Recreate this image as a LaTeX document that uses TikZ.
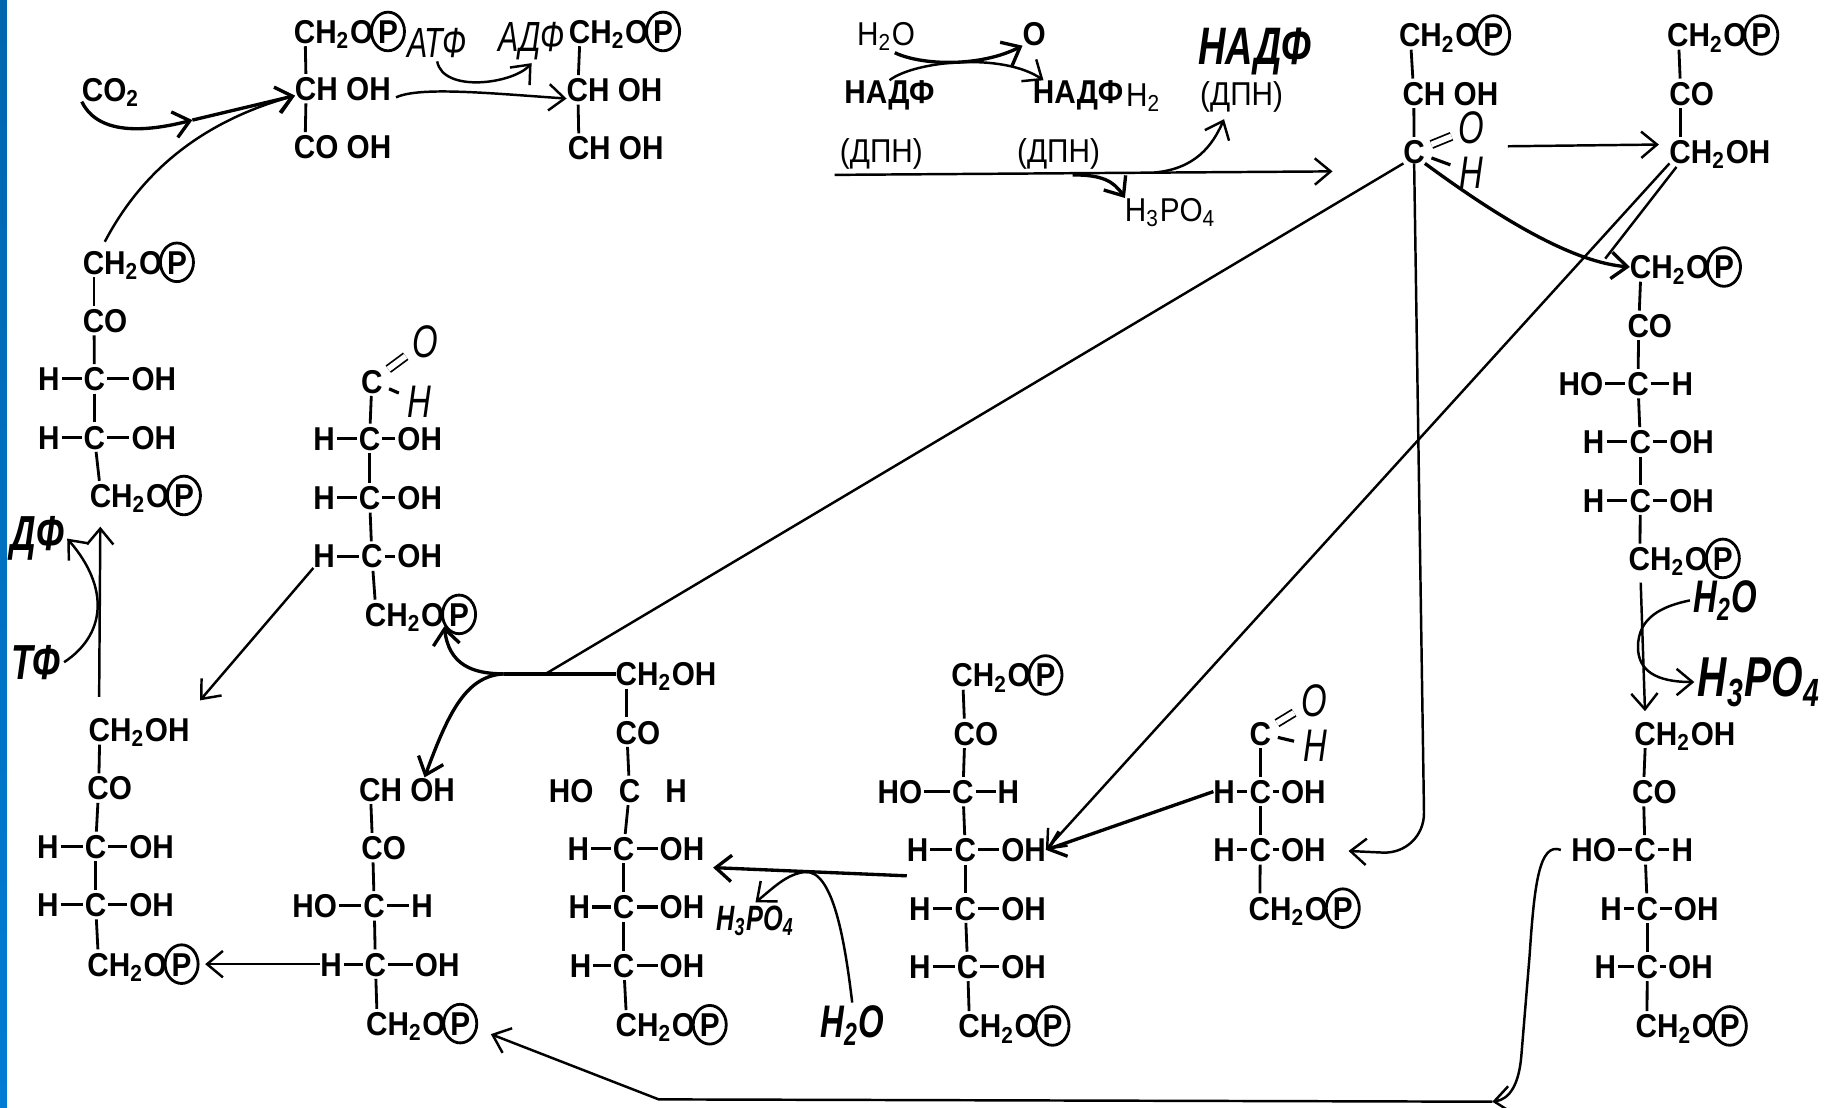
\documentclass[tikz,border=0pt]{standalone}
\usepackage{fontspec}
\setmainfont{Liberation Sans}
\newfontfamily\handfont[FakeStretch=0.72]{Liberation Sans}
\newfontfamily\chemfont[FakeStretch=0.9]{Liberation Sans}
\usetikzlibrary{arrows.meta,positioning,shapes.geometric,calc}
\definecolor{stripa}{HTML}{0066AE}
\definecolor{stripb}{HTML}{007CD4}

\tikzset{
  >={Straight Barb[length=4.5pt,width=7.5pt]},
  atom/.style={font=\chemfont\bfseries\fontsize{9.4}{10}\selectfont, inner sep=0pt, outer sep=0pt, text height=6.75pt, text depth=0pt},
  plainlabel/.style={atom, font=\chemfont\fontsize{9.4}{10}\selectfont},
  pcirc/.style={atom, ellipse, draw, line width=0.8pt, minimum width=9.4pt, minimum height=11pt},
  bond/.style={line width=0.8pt, shorten <=4.2pt, shorten >=4.2pt},
  rowbond/.style={line width=0.9pt, shorten <=0.6pt, shorten >=0.6pt},
  arr/.style={->, line width=0.7pt},
  arrh/.style={->, line width=0.95pt},
  thinline/.style={line width=0.7pt},
  hand/.style={font=\handfont\itshape\fontsize{#1}{#1}\selectfont, inner sep=0pt, outer sep=1pt},
  handb/.style={font=\handfont\bfseries\itshape\fontsize{#1}{#1}\selectfont, inner sep=0pt, outer sep=1pt},
}

% name, x, y, text
\newcommand{\chemgrp}[4]{
  \node[atom, anchor=west] (#1) at (#2,#3) {#4};
  \coordinate (#1k) at ([xshift=3.2pt]#1.west);
}
% name, x, y
\newcommand{\chemphos}[3]{
  \chemgrp{#1}{#2}{#3}{CH\textsubscript{2}O}
  \node[pcirc, right=-0.5pt of #1] (#1p) {P};
}
% name, x left, x C, x right, y, left text, right text
\newcommand{\chemrow}[7]{
  \node[atom] (#1c) at (#3,#5) {C};
  \coordinate (#1k) at (#1c.center);
  \node[atom] (#1l) at (#2,#5) {#6};
  \node[atom] (#1r) at (#4,#5) {#7};
  \draw[rowbond] (#1l) -- (#1c);
  \draw[rowbond] (#1c) -- (#1r);
}
% name, x, y, x O, y O, x H, y H
\newcommand{\chemald}[7]{
  \node[atom] (#1c) at (#2,#3) {C};
  \coordinate (#1k) at (#1c.center);
  \node[hand=13, outer sep=2pt] (#1o) at (#4,#5) {O};
  \node[hand=13, outer sep=2pt] (#1h) at (#6,#7) {H};
  \draw[line width=0.5pt, double, double distance=1.6pt, shorten <=2pt] (#1c) -- (#1o);
  \draw[rowbond, shorten <=2pt] (#1c) -- (#1h);
}
\newcommand{\chembond}[2]{\draw[bond] (#1k) -- (#2k);}

\begin{document}
\begin{tikzpicture}[x=0.116582mm, y=-0.116582mm]
  \useasboundingbox (0,0) rectangle (1568,950);
  \shade[top color=stripa, bottom color=stripb] (0,0) rectangle (6,950);

  % Top left pair
  \chemphos{a1}{252}{27}
  \chemgrp{a2}{253}{76}{CH OH}
  \chemgrp{a3}{252}{126}{CO OH}
  \chembond{a1}{a2} \chembond{a2}{a3}
  \chemphos{b1}{488}{27}
  \chemgrp{b2}{486}{77}{CH OH}
  \chemgrp{b3}{487}{127}{CH OH}
  \chembond{b1}{b2} \chembond{b2}{b3}
  \node[atom] (co2) at (95,77) {CO\textsubscript{2}};
  \node[hand=12] (atf) at (375,37) {АТФ};
  \node[hand=12] (adf) at (456,35) {АДФ};

  % Top middle labels
  \node[plainlabel] (wat) at (760,29) {H\textsubscript{2}O};
  \node[atom] (oxy) at (887,29) {O};
  \node[atom] (nad1) at (763,79) {НАДФ};
  \node[atom, anchor=west] (nad2) at (886,79) {НАДФ};
  \node[plainlabel, anchor=west] (nad2h) at (966,81) {H\textsubscript{2}};
  \node[plainlabel] (dpn1) at (756,129) {(ДПН)};
  \node[plainlabel] (dpn2) at (908,129) {(ДПН)};
  \node[handb=15] (nad3) at (1076,44) {НАДФ};
  \node[plainlabel] (dpn3) at (1065,80) {(ДПН)};
  \node[plainlabel] (phosa) at (1004,180) {H\textsubscript{3}PO\textsubscript{4}};
  \coordinate (fstart) at (716,150);
  \coordinate (fend) at (1143,147);
  \coordinate (fa) at (920,150);
  \coordinate (fb) at (990,148);

  % Top right
  \chemphos{c1}{1200}{30}
  \chemgrp{c2}{1203}{80}{CH OH}
  \chemald{c3}{1213}{130}{1262}{110}{1262}{148}
  \chembond{c1}{c2} \chembond{c2}{c3}
  \chemphos{d1}{1430}{30}
  \chemgrp{d2}{1432}{80}{CO}
  \chemgrp{d3}{1432}{130}{CH\textsubscript{2}OH}
  \chembond{d1}{d2} \chembond{d2}{d3}

  % Right column, upper
  \chemphos{e1}{1398}{229}
  \chemgrp{e2}{1396}{279}{CO}
  \chemrow{e3}{1356}{1405}{1443}{329}{HO}{H}
  \chemrow{e4}{1367}{1407}{1451}{379}{H}{OH}
  \chemrow{e5}{1367}{1407}{1451}{429}{H}{OH}
  \chemphos{e6}{1397}{479}
  \chembond{e1}{e2} \chembond{e2}{e3} \chembond{e3}{e4} \chembond{e4}{e5} \chembond{e5}{e6}

  % Right column, lower
  \chemgrp{f1}{1402}{629}{CH\textsubscript{2}OH}
  \chemgrp{f2}{1400}{679}{CO}
  \chemrow{f3}{1367}{1411}{1443}{729}{HO}{H}
  \chemrow{f4}{1382}{1413}{1455}{779}{H}{OH}
  \chemrow{f5}{1377}{1413}{1450}{829}{H}{OH}
  \chemphos{f6}{1403}{880}
  \chembond{f1}{f2} \chembond{f2}{f3} \chembond{f3}{f4} \chembond{f4}{f5} \chembond{f5}{f6}
  \node[handb=13] (wata) at (1480,515) {H\textsubscript{2}O};
  \node[handb=16] (phosb) at (1509,585) {H\textsubscript{3}PO\textsubscript{4}};

  % Bottom row, from the right
  \chemald{g1}{1081}{629}{1127}{601}{1128}{640}
  \chemrow{g2}{1050}{1081}{1118}{679}{H}{OH}
  \chemrow{g3}{1050}{1081}{1118}{729}{H}{OH}
  \chemphos{g4}{1071}{779}
  \chembond{g1}{g2} \chembond{g2}{g3} \chembond{g3}{g4}

  \chemphos{h1}{816}{579}
  \chemgrp{h2}{818}{629}{CO}
  \chemrow{h3}{772}{826}{865}{679}{HO}{H}
  \chemrow{h4}{787}{828}{878}{729}{H}{OH}
  \chemrow{h5}{789}{828}{878}{779}{H}{OH}
  \chemrow{h6}{789}{830}{878}{829}{H}{OH}
  \chemphos{h7}{822}{880}
  \chembond{h1}{h2} \chembond{h2}{h3} \chembond{h3}{h4} \chembond{h4}{h5} \chembond{h5}{h6} \chembond{h6}{h7}
  \node[handb=13] (watb) at (731,880) {H\textsubscript{2}O};
  \node[handb=10] (phosc) at (648,790) {H\textsubscript{3}PO\textsubscript{4}};

  \chemgrp{i1}{528}{578}{CH\textsubscript{2}OH}
  \chemgrp{i2}{528}{628}{CO}
  \node[atom] (i3l) at (490,678) {HO};
  \node[atom] (i3c) at (540,678) {C};
  \node[atom] (i3r) at (580,678) {H};
  \coordinate (i3k) at (i3c.center);
  \chemrow{i4}{496}{535}{585}{728}{H}{OH}
  \chemrow{i5}{497}{535}{585}{778}{H}{OH}
  \chemrow{i6}{498}{535}{585}{828}{H}{OH}
  \chemphos{i7}{528}{879}
  \chembond{i1}{i2} \chembond{i2}{i3} \chembond{i3}{i4} \chembond{i4}{i5} \chembond{i5}{i6} \chembond{i6}{i7}

  \chemgrp{j1}{308}{677}{CH OH}
  \chemgrp{j2}{310}{727}{CO}
  \chemrow{j3}{270}{321}{362}{777}{HO}{H}
  \chemrow{j4}{284}{322}{375}{827}{H}{OH}
  \chemphos{j5}{314}{878}
  \chembond{j1}{j2} \chembond{j2}{j3} \chembond{j3}{j4} \chembond{j4}{j5}

  \chemgrp{k1}{76}{626}{CH\textsubscript{2}OH}
  \chemgrp{k2}{75}{676}{CO}
  \chemrow{k3}{41}{82}{130}{726}{H}{OH}
  \chemrow{k4}{41}{82}{130}{776}{H}{OH}
  \chemphos{k5}{75}{827}
  \chembond{k1}{k2} \chembond{k2}{k3} \chembond{k3}{k4} \chembond{k4}{k5}

  % Left column, upper
  \chemald{l1}{319}{327}{365}{293}{360}{345}
  \chemrow{l2}{278}{317}{360}{376}{H}{OH}
  \chemrow{l3}{278}{317}{360}{427}{H}{OH}
  \chemrow{l4}{278}{319}{360}{477}{H}{OH}
  \chemphos{l5}{313}{527}
  \chembond{l1}{l2} \chembond{l2}{l3} \chembond{l3}{l4} \chembond{l4}{l5}

  \chemphos{m1}{71}{225}
  \chemgrp{m2}{71}{275}{CO}
  \chemrow{m3}{42}{81}{132}{325}{H}{OH}
  \chemrow{m4}{42}{81}{132}{375}{H}{OH}
  \chemphos{m5}{77}{425}
  \chembond{m1}{m2} \chembond{m2}{m3} \chembond{m3}{m4} \chembond{m4}{m5}
  \node[handb=14] (df) at (32,462) {ДФ};
  \node[handb=14] (tf) at (31,568) {ТФ};

  % Arrows, top
  \coordinate (cojoin) at (165,103);
  \draw[arrh] (co2.south west) .. controls (85,118) and (130,112) .. (cojoin);
  \draw[arrh] (cojoin) -- ([yshift=-2pt]a2.west);
  \draw[arr, shorten <=6.6pt] (m1k) .. controls (120,150) and (170,105) .. ([yshift=-2pt]a2.west);
  \draw[arr] ([shift={(1.5pt,-2.5pt)}]a2.east) .. controls (360,74) and (420,80) .. ([yshift=-2.5pt]b2.west);
  \draw[arr] (atf.south) .. controls (380,80) and (440,72) .. (adf.south);
  \draw[arrh] ([shift={(2.5pt,-2pt)}]wat.south) .. controls (790,56) and (840,58) .. (oxy.south west);
  \draw[arr] (nad1.north) .. controls (785,52) and (860,45) .. ([xshift=3pt]nad2.north west);
  \draw[arr] (fstart) -- (fend);
  \draw[arrh] (fa) .. controls (945,150) and (955,155) .. (phosa.north west);
  \draw[arr] (fb) .. controls (1025,145) and (1040,125) .. ([shift={(-5pt,-4pt)}]dpn3.south);
  \draw[arr] ([shift={(5pt,1pt)}]c3h.north east) -- ([shift={(-3pt,2pt)}]d3.west);

  % Arrows, from the triose
  \coordinate (jn) at (468,578);
  \coordinate (jm) at (432,578);
  \coordinate (jc) at (1222,733);
  \draw[thinline] (c3c.south west) -- (jn);
  \draw[arrh] (c3c.south east) .. controls (1290,190) and (1350,225) .. (e1.west);
  \draw[arr, rounded corners=12pt, shorten >=6.5pt] (c3c.south) -- (jc) -- (g3r.east);
  \draw[arr] (d3.south west) -- (h4r.east);
  \draw[thinline] ([shift={(2pt,-1pt)}]d3.south west) -- ([shift={(-7pt,-1pt)}]e1.north west);
  \draw[arrh] (g2l.west) -- (h4r.east);
  \draw[arrh] ([yshift=-4pt]h4l.south west) -- ([shift={(2.5pt,-2pt)}]i4r.south east);
  \draw[arr] (watb.north) .. controls (725,810) and (715,745) .. (690,748) .. controls (675,750) and (665,760) .. (phosc.north);

  % Arrows, left side
  \draw[line width=0.95pt] (i1.west) -- (jm);
  \draw[arrh] (jm) .. controls (405,578) and (385,570) .. (l5.south east);
  \draw[arrh] (jm) .. controls (400,580) and (385,610) .. ([xshift=5pt]j1.north);
  \draw[arr] (l4l.south west) -- ([shift={(3pt,5pt)}]k1.north east);
  \draw[arr] ([shift={(3pt,6pt)}]k1.north west) -- ([shift={(3pt,-5.5pt)}]m5.south west);
  \draw[arr] (tf.east) .. controls (90,545) and (95,505) .. (df.east);
  \draw[arr, shorten >=2pt] (j4l.west) -- (k5p.east);

  % Arrows, right side
  \coordinate (qb) at (1280,945);
  \coordinate (qc) at (565,943);
  \draw[arr] ([xshift=-3pt]f3l.west) .. controls (1320,722) and (1316,760) .. (1312,820) -- (1305,905) .. controls (1303,930) and (1295,943) .. (qb);
  \draw[arr] (qb) -- (qc) -- ([shift={(4pt,-3pt)}]j5p.east);
  \draw[arr, shorten <=6.9pt, shorten >=6.3pt] (e6k) -- (f1k);
  \draw[thinline] (wata.west) .. controls (1425,520) and (1405,530) .. (1405,555);
  \draw[arr] (1405,555) .. controls (1405,575) and (1420,585) .. (phosb.west);
\end{tikzpicture}
\end{document}
